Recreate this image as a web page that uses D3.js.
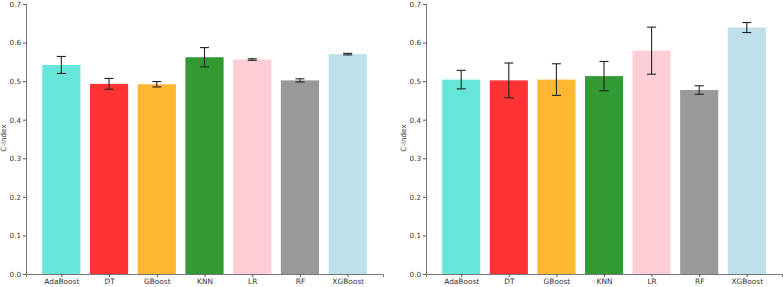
<!DOCTYPE html>
<html><head><meta charset="utf-8">
<script src="https://cdn.jsdelivr.net/npm/d3@7"></script>
<style>body{margin:0;background:#fff}svg{display:block}text{font-family:"DejaVu Sans",sans-serif}</style>
</head><body>
<script>
const categories = ["AdaBoost","DT","GBoost","KNN","LR","RF","XGBoost"];
const colors = ["#40e0d0","#ff0000","#ffa500","#008000","#ffc0cb","#808080","#add8e6"];
const leftMeans = [0.542,0.493,0.492,0.562,0.556,0.502,0.570];
const leftErrs  = [0.022,0.014,0.007,0.025,0.002,0.004,0.002];
const rightMeans = [0.504,0.502,0.504,0.513,0.579,0.477,0.639];
const rightErrs  = [0.024,0.045,0.041,0.038,0.061,0.011,0.013];
const yTicks = [0.0,0.1,0.2,0.3,0.4,0.5,0.6,0.7];
const yLabel = "C-index";

const W = 783, H = 287;
const svg = d3.select("body").append("svg").attr("width", W).attr("height", H);

function panel(x0, x1, means, errs) {
  const y = d3.scaleLinear().domain([0, 0.7]).range([274, 4]);
  const x = d3.scaleLinear().domain([-0.74, 6.74]).range([x0, x1]);
  const g = svg.append("g");
  const bw = 0.8;
  g.selectAll("rect.bar").data(categories).join("rect")
    .attr("x", (d,i) => x(i - bw/2)).attr("width", (d,i) => x(i + bw/2) - x(i - bw/2))
    .attr("y", (d,i) => y(means[i])).attr("height", (d,i) => y(0) - y(means[i]))
    .attr("fill", (d,i) => colors[i]).attr("fill-opacity", 0.8);
  const eb = g.selectAll("g.err").data(categories).join("g").attr("stroke", "#222").attr("stroke-width", 1.1);
  eb.append("line").attr("x1", (d,i)=>x(i)).attr("x2",(d,i)=>x(i))
    .attr("y1",(d,i)=>y(means[i]-errs[i])).attr("y2",(d,i)=>y(means[i]+errs[i]));
  [1,-1].forEach(s => eb.append("line").attr("x1",(d,i)=>x(i)-4.5).attr("x2",(d,i)=>x(i)+4.5)
    .attr("y1",(d,i)=>y(means[i]+s*errs[i])).attr("y2",(d,i)=>y(means[i]+s*errs[i])));
  const ya = g.append("g").attr("transform", `translate(${x0},0)`)
    .call(d3.axisLeft(y).tickValues(yTicks).tickFormat(d3.format(".1f")).tickSize(3).tickPadding(2));
  const xa = g.append("g").attr("transform", `translate(0,274)`)
    .call(d3.axisBottom(x).tickValues(d3.range(categories.length)).tickFormat(i => categories[i]).tickSize(3).tickPadding(1.5));
  [ya, xa].forEach(a => {
    a.select(".domain").attr("stroke", "#777").attr("stroke-width", 1);
    a.selectAll(".tick line").attr("stroke", "#555");
    a.selectAll("text").attr("fill", "#333").attr("font-family", "DejaVu Sans");
  });
  ya.selectAll("text").attr("font-size", "7.2px");
  xa.selectAll("text").attr("font-size", "7.4px");
  g.append("text").attr("transform", `translate(${x0-20},138) rotate(-90)`)
    .attr("text-anchor","middle").attr("font-size","7.2px").attr("fill","#333").text(yLabel);
}
panel(26, 383, leftMeans, leftErrs);
panel(426, 782, rightMeans, rightErrs);
</script>
</body></html>
